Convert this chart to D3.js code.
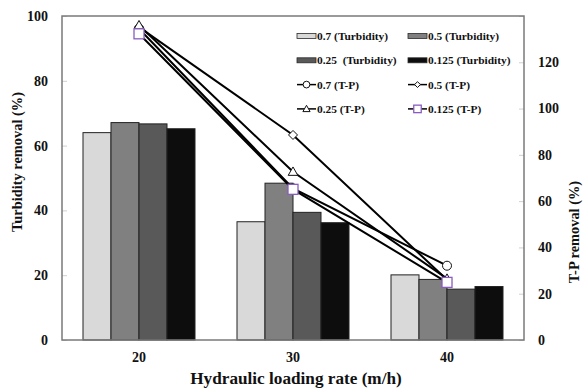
<!DOCTYPE html>
<html>
<head>
<meta charset="utf-8">
<script src="https://cdn.jsdelivr.net/npm/d3@7"></script>
<style>
  html, body { margin: 0; padding: 0; background: #fff; }
  svg { display: block; }
  text { font-family: "Liberation Serif", "Times New Roman", serif; font-weight: bold; fill: #111; white-space: pre; }
</style>
</head>
<body>
<svg id="chart" width="585" height="390"></svg>
<script>
// Hydraulic loading rates (m/h)
const categories = ["20", "30", "40"];

// Turbidity removal (%) for each filter size
const turbSeries = ["0.7 (Turbidity)", "0.5 (Turbidity)", "0.25  (Turbidity)", "0.125 (Turbidity)"];
const turb07 = [64.0, 36.5, 20.1];
const turb05 = [67.1, 48.4, 18.7];
const turb025 = [66.7, 39.4, 15.7];
const turb0125 = [65.2, 36.2, 16.5];

// T-P removal (%) for each filter size
const tpSeries = ["0.7 (T-P)", "0.5 (T-P)", "0.25 (T-P)", "0.125 (T-P)"];
const tp07 = [134.5, 65.5, 32.1];
const tp05 = [135.2, 88.6, 26.0];
const tp025 = [136.0, 72.7, 26.5];
const tp0125 = [132.3, 65.1, 24.9];

// Axis ticks
const leftTicks = [0, 20, 40, 60, 80, 100];
const rightTicks = [0, 20, 40, 60, 80, 100, 120];

const barColors = ["#d9d9d9", "#808080", "#595959", "#0d0d0d"];
const turbValues = [turb07, turb05, turb025, turb0125];
const tpValues = [tp07, tp05, tp025, tp0125];
const markerTypes = ["circle", "diamond", "triangle", "square"];

const svg = d3.select("#chart");
const plot = { left: 62, right: 524, top: 16, bottom: 340 };

const x = d3.scaleBand().domain(categories).range([plot.left, plot.right]).padding(0);
const xInner = d3.scaleBand().domain(turbSeries).range([0, x.bandwidth()])
  .paddingInner(0).paddingOuter(0.75);
const yL = d3.scaleLinear().domain([0, 100]).range([plot.bottom, plot.top]);
const yR = d3.scaleLinear().domain([0, 140]).range([plot.bottom, plot.top]);

// Inner tick marks (short, light)
const leftAxis = d3.axisRight(yL).tickValues(leftTicks).tickSize(5).tickFormat("");
svg.append("g").attr("transform", `translate(${plot.left},0)`).call(leftAxis)
  .call(g => g.select(".domain").remove())
  .call(g => g.selectAll("line").attr("stroke", "#d0d0d0"));
const rightAxis = d3.axisLeft(yR).tickValues(rightTicks.concat([140])).tickSize(5).tickFormat("");
svg.append("g").attr("transform", `translate(${plot.right},0)`).call(rightAxis)
  .call(g => g.select(".domain").remove())
  .call(g => g.selectAll("line").attr("stroke", "#d0d0d0"));

// Bars
turbSeries.forEach((s, si) => {
  svg.append("g").selectAll("rect")
    .data(categories.map((c, ci) => ({ c, v: turbValues[si][ci] })))
    .join("rect")
    .attr("x", d => x(d.c) + xInner(s))
    .attr("y", d => yL(d.v))
    .attr("width", xInner.bandwidth())
    .attr("height", d => yL(0) - yL(d.v))
    .attr("fill", barColors[si])
    .attr("stroke", "#222")
    .attr("stroke-width", 1);
});

// Plot frame
svg.append("rect")
  .attr("x", plot.left).attr("y", plot.top)
  .attr("width", plot.right - plot.left).attr("height", plot.bottom - plot.top)
  .attr("fill", "none").attr("stroke", "#7a7a7a").attr("stroke-width", 1.5);

// Marker drawing helper
function drawMarker(g, type, cx, cy, scale) {
  const k = scale || 1;
  if (type === "circle") {
    g.append("circle").attr("cx", cx).attr("cy", cy).attr("r", 4.5 * k)
      .attr("fill", "#fff").attr("stroke", "#111").attr("stroke-width", 1);
  } else if (type === "diamond") {
    const r = 4.5 * k;
    g.append("path").attr("d", `M${cx},${cy - r}L${cx + r},${cy}L${cx},${cy + r}L${cx - r},${cy}Z`)
      .attr("fill", "#fff").attr("stroke", "#111").attr("stroke-width", 1);
  } else if (type === "triangle") {
    const r = 4.8 * k;
    g.append("path").attr("d", `M${cx},${cy - r}L${cx + r},${cy + r * 0.75}L${cx - r},${cy + r * 0.75}Z`)
      .attr("fill", "#fff").attr("stroke", "#111").attr("stroke-width", 1);
  } else {
    const h = 5 * k;
    g.append("rect").attr("x", cx - h).attr("y", cy - h).attr("width", 2 * h).attr("height", 2 * h)
      .attr("fill", "#fff").attr("stroke", "#8a5cc0").attr("stroke-width", 1.3);
  }
}

// T-P lines
const cx = c => x(c) + x.bandwidth() / 2;
const line = d3.line().x(d => cx(d.c)).y(d => yR(d.v));
tpSeries.forEach((s, si) => {
  const pts = categories.map((c, ci) => ({ c, v: tpValues[si][ci] }));
  svg.append("path").datum(pts).attr("d", line)
    .attr("fill", "none").attr("stroke", "#000").attr("stroke-width", 2);
});
tpSeries.forEach((s, si) => {
  const g = svg.append("g");
  categories.forEach((c, ci) => drawMarker(g, markerTypes[si], cx(c), yR(tpValues[si][ci])));
});

// Tick labels
svg.append("g").selectAll("text").data(leftTicks).join("text")
  .attr("x", 48).attr("y", d => yL(d)).attr("dy", "0.35em")
  .attr("text-anchor", "end").attr("font-size", 14).text(d => d);
svg.append("g").selectAll("text").data(rightTicks).join("text")
  .attr("x", 538).attr("y", d => yR(d)).attr("dy", "0.35em")
  .attr("text-anchor", "start").attr("font-size", 14).text(d => d);
svg.append("g").selectAll("text").data(categories).join("text")
  .attr("x", d => cx(d)).attr("y", 362)
  .attr("text-anchor", "middle").attr("font-size", 14).text(d => d);

// Axis titles
svg.append("text").attr("x", 296).attr("y", 384).attr("text-anchor", "middle")
  .attr("font-size", 17.2).text("Hydraulic loading rate (m/h)");
svg.append("text").attr("transform", "translate(22,162) rotate(-90)").attr("text-anchor", "middle")
  .attr("font-size", 14.4).text("Turbidity removal (%)");
svg.append("text").attr("transform", "translate(579,232) rotate(-90)").attr("text-anchor", "middle")
  .attr("font-size", 14.4).text("T-P removal (%)");

// Legend
const legendItems = [];
turbSeries.forEach((s, i) => legendItems.push({ kind: "bar", label: s, i }));
tpSeries.forEach((s, i) => legendItems.push({ kind: "line", label: s, i }));
const colX = [297, 408];
const rowY0 = 36, rowStep = 24.3;
const lg = svg.append("g");
legendItems.forEach((d, k) => {
  const lx = colX[k % 2];
  const ly = rowY0 + Math.floor(k / 2) * rowStep;
  if (d.kind === "bar") {
    lg.append("rect").attr("x", lx).attr("y", ly - 2.5).attr("width", 19).attr("height", 5)
      .attr("fill", barColors[d.i]).attr("stroke", "#2a2a2a").attr("stroke-width", 0.8);
  } else {
    lg.append("line").attr("x1", lx).attr("x2", lx + 19).attr("y1", ly).attr("y2", ly)
      .attr("stroke", "#000").attr("stroke-width", 1.5);
    drawMarker(lg, markerTypes[d.i], lx + 9.5, ly, d.i === 1 ? 0.65 : 0.75);
  }
  lg.append("text").attr("x", lx + 20).attr("y", ly).attr("dy", "0.35em")
    .attr("font-size", 11.4).text(d.label);
});
</script>
</body>
</html>
